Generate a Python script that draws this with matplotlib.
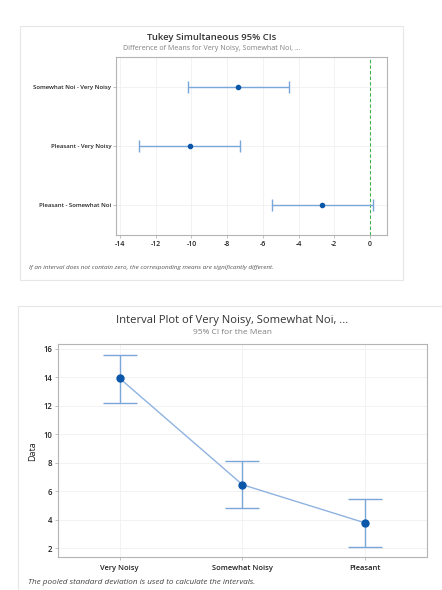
import matplotlib
matplotlib.use("Agg")
import matplotlib.pyplot as plt
from matplotlib.patches import Rectangle

plt.rcParams['font.family'] = ['Open Sans', 'DejaVu Sans']

# Tukey comparisons (top chart)
comparisons = ["Pleasant - Somewhat Noi", "Pleasant - Very Noisy", "Somewhat Noi - Very Noisy"]
diff_center = [-2.67, -10.10, -7.39]
diff_lower = [-5.50, -12.93, -10.19]
diff_upper = [0.19, -7.26, -4.53]
diff_ticks = [-14, -12, -10, -8, -6, -4, -2, 0]

# Interval plot (bottom chart)
groups = ["Very Noisy", "Somewhat Noisy", "Pleasant"]
means = [13.92, 6.46, 3.78]
ci_lower = [12.21, 4.83, 2.12]
ci_upper = [15.54, 8.10, 5.46]
data_ticks = [2, 4, 6, 8, 10, 12, 14, 16]

W, H = 442, 590
fig = plt.figure(figsize=(W / 100, H / 100), dpi=100)
fig.patch.set_facecolor("white")

def fx(px):
    return px / W

def fy(py):
    return 1 - py / H

def add_axes_px(left, top, right, bottom):
    return fig.add_axes([fx(left), fy(bottom), fx(right - left), (bottom - top) / H])

# Panel frames
fig.patches.append(Rectangle((fx(20), fy(280)), fx(383), (280 - 26) / H,
                             transform=fig.transFigure, fill=False,
                             edgecolor="#e6e6e6", linewidth=0.8))
fig.patches.append(Rectangle((fx(18), fy(600)), fx(440), (600 - 306) / H,
                             transform=fig.transFigure, fill=False,
                             edgecolor="#e6e6e6", linewidth=0.8))

err_col = "#7aa6d8"
mark_col = "#0a56a8"
spine_col = "#b4b4b4"
grid_col = "#f0f0f0"
title_col = "#333333"
sub_col = "#808080"

# ---- Top chart ----
ax1 = add_axes_px(116, 57, 387, 235)
ypos = list(range(1, len(comparisons) + 1))
xerr = [[c - l for c, l in zip(diff_center, diff_lower)],
        [u - c for c, u in zip(diff_center, diff_upper)]]
ax1.errorbar(diff_center, ypos, xerr=xerr, fmt="none", ecolor=err_col,
             elinewidth=1.0, capsize=4, capthick=1.0, zorder=3)
ax1.plot(diff_center, ypos, "o", color=mark_col, markersize=3, zorder=4, linestyle="none")
ax1.axvline(0, color="#3cb44b", linestyle=(0, (3, 2)), linewidth=0.8, zorder=2)
ax1.set_xlim(-14.22, 0.95)
ax1.set_ylim(0.5, 3.5)
ax1.set_xticks(diff_ticks)
ax1.set_xticklabels([str(t) for t in diff_ticks])
ax1.set_yticks(ypos)
ax1.set_yticklabels(comparisons)
ax1.grid(True, color=grid_col, linewidth=0.6, zorder=0)
ax1.set_axisbelow(True)
for s in ax1.spines.values():
    s.set_color(spine_col)
    s.set_linewidth(0.8)
ax1.tick_params(axis="both", colors=spine_col, length=2.5, width=0.6, labelcolor="#222222")
ax1.tick_params(axis="x", labelsize=5.0, pad=2)
ax1.tick_params(axis="y", labelsize=4.3, pad=1)
for lab in ax1.get_xticklabels() + ax1.get_yticklabels():
    lab.set_fontweight("semibold")

fig.text(fx(212), fy(37), "Tukey Simultaneous 95% CIs", ha="center", va="center",
         fontsize=6.8, fontweight="semibold", color=title_col)
fig.text(fx(212), fy(48), "Difference of Means for Very Noisy, Somewhat Noi, ...",
         ha="center", va="center", fontsize=5.1, color=sub_col)
fig.text(fx(29), fy(267.5), "If an interval does not contain zero, the corresponding means are significantly different.",
         ha="left", va="center", fontsize=4.55, style="italic", color="#555555")

# ---- Bottom chart ----
ax2 = add_axes_px(58.3, 344, 426.7, 557.3)
xpos = list(range(1, len(groups) + 1))
yerr = [[m - l for m, l in zip(means, ci_lower)],
        [u - m for m, u in zip(means, ci_upper)]]
ax2.plot(xpos, means, "-", color="#8fb3e0", linewidth=1.0, zorder=2)
ax2.errorbar(xpos, means, yerr=yerr, fmt="none", ecolor=err_col,
             elinewidth=1.0, capsize=12, capthick=1.0, zorder=3)
ax2.plot(xpos, means, "o", color=mark_col, markersize=5, zorder=4, linestyle="none")
ax2.set_xlim(0.5, 3.5)
ax2.set_ylim(1.37, 16.33)
ax2.set_xticks(xpos)
ax2.set_xticklabels(groups)
ax2.set_yticks(data_ticks)
ax2.set_yticklabels([str(t) for t in data_ticks])
ax2.grid(True, color=grid_col, linewidth=0.6, zorder=0)
ax2.set_axisbelow(True)
for s in ax2.spines.values():
    s.set_color(spine_col)
    s.set_linewidth(0.8)
ax2.tick_params(axis="both", colors=spine_col, length=2.5, width=0.6, labelcolor="#222222")
ax2.tick_params(axis="x", labelsize=5.4, pad=3)
ax2.tick_params(axis="y", labelsize=5.6, pad=2)
for lab in ax2.get_xticklabels() + ax2.get_yticklabels():
    lab.set_fontweight("semibold")
ax2.set_ylabel("Data", fontsize=6.5, color="#222222", labelpad=4)

fig.text(fx(232), fy(320), "Interval Plot of Very Noisy, Somewhat Noi, ...", ha="center", va="center",
         fontsize=8.1, color=title_col)
fig.text(fx(232), fy(332), "95% CI for the Mean", ha="center", va="center",
         fontsize=6.0, color=sub_col)
fig.text(fx(28), fy(582.5), "The pooled standard deviation is used to calculate the intervals.",
         ha="left", va="center", fontsize=5.9, style="italic", color="#444444")

fig.savefig("out.png", dpi=100, facecolor="white")
